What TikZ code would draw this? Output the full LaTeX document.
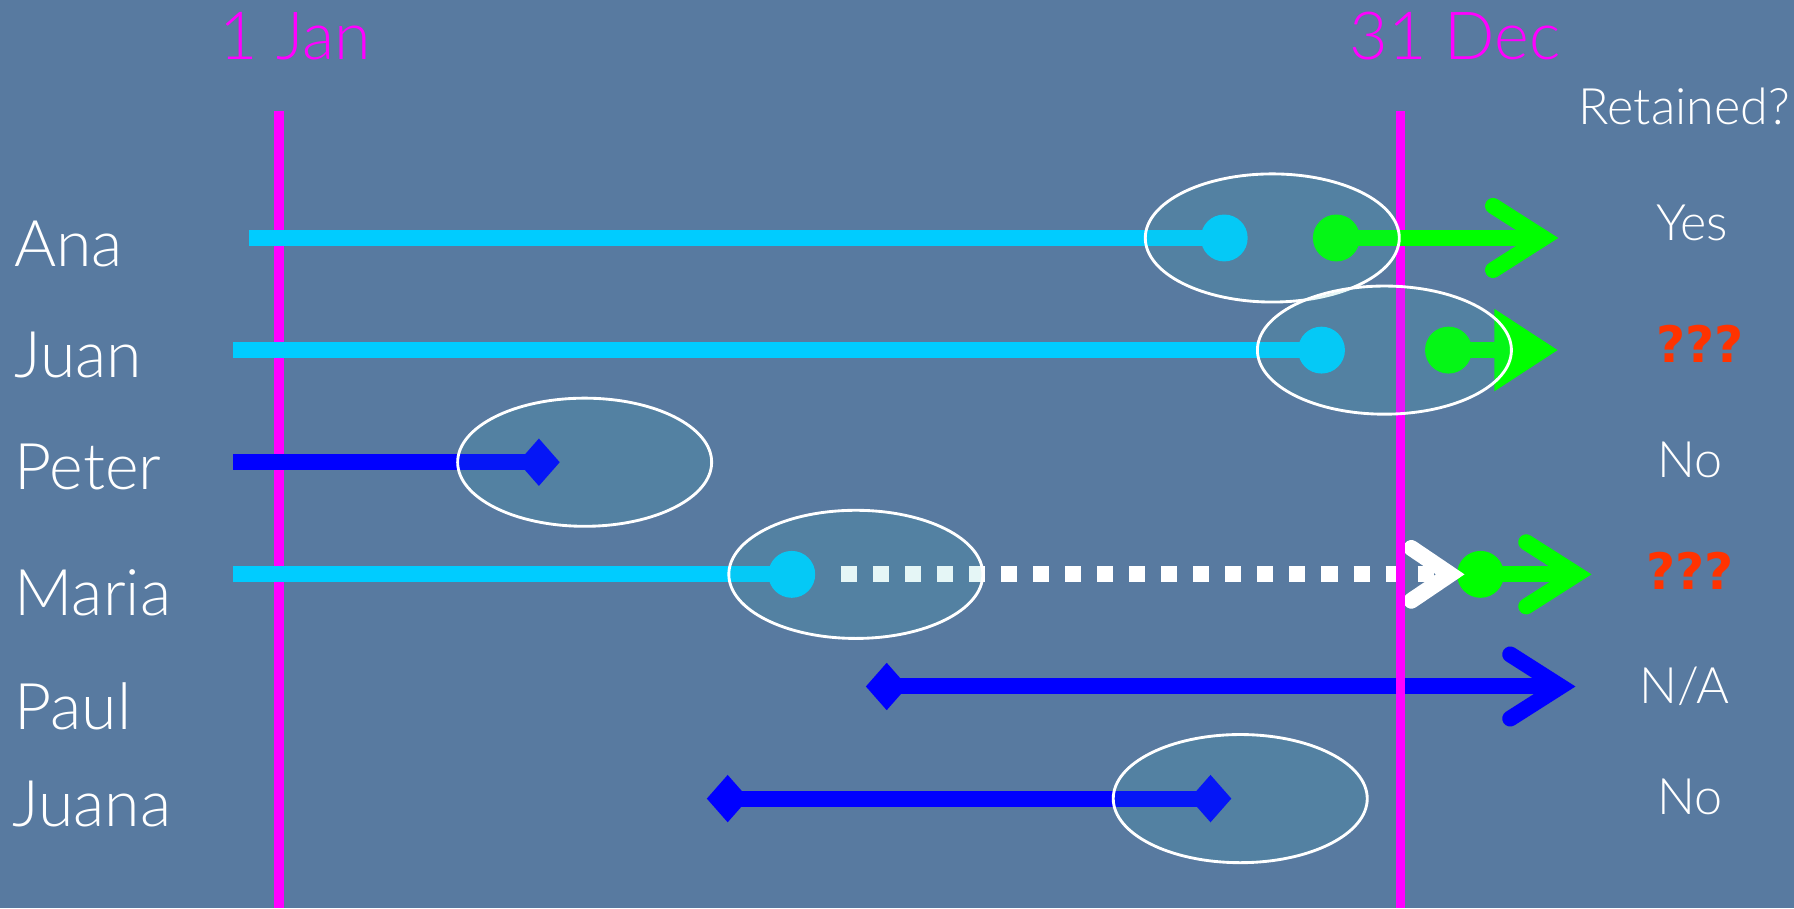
\documentclass[tikz,border=0pt]{standalone}
\usepackage{fontspec}
\setmainfont{Lato Light}
\newfontfamily\markfont{DejaVu Sans}
\usetikzlibrary{arrows.meta,shapes.geometric}

\definecolor{slide}{RGB}{88,122,160}
\definecolor{fuchsia}{RGB}{255,0,255}
\definecolor{sky}{RGB}{0,204,255}
\definecolor{lime}{RGB}{0,255,0}
\definecolor{hilite}{RGB}{48,182,182}
\definecolor{alarm}{RGB}{255,51,0}

\tikzset{
  bar/.style={line width=1.4mm},
  yearline/.style={fuchsia, line width=0.85mm},
  dot/.style={circle, fill, inner sep=0pt, minimum size=4.1mm},
  gem/.style={diamond, fill=blue, inner sep=0pt, minimum width=3.7mm, minimum height=4.2mm},
  barb/.style={-{Straight Barb[length=4.4mm, width=5.6mm, line cap=round]}},
  smallbarb/.style={-{Straight Barb[length=3.4mm, width=4.6mm, line cap=round]}},
  wedge/.style={-{Triangle[length=5.6mm, width=6.8mm]}},
  ring/.style={ellipse, draw=white, line width=0.25mm, fill=hilite, fill opacity=0.12,
    minimum width=22.2mm, minimum height=11.2mm},
  person/.style={text=white, inner sep=0pt, font=\fontsize{16}{16}\selectfont, anchor=base west},
  daylabel/.style={text=fuchsia, inner sep=0pt, font=\fontsize{16.5}{16.5}\selectfont, anchor=base},
  answer/.style={text=white, inner sep=0pt, font=\fontsize{12.5}{12.5}\selectfont, anchor=base},
  puzzle/.style={text=alarm, inner sep=0pt, font=\markfont\bfseries\fontsize{12.5}{12.5}\selectfont, anchor=base}
}

\begin{document}
\begin{tikzpicture}
\fill[slide] (0,0) rectangle (15.68,-7.94);
\useasboundingbox (0,0) rectangle (15.68,-7.94);

% year limits
\node[daylabel] (jan) at (2.58,-0.52) {1 Jan};
\node[daylabel] (dec) at (12.72,-0.52) {31 Dec};
\coordinate (jan top) at (2.44,-0.97);
\coordinate (jan foot) at (2.44,-7.94);
\coordinate (dec top) at (12.24,-0.97);
\coordinate (dec foot) at (12.24,-7.94);
\draw[yearline] (jan top) -- (jan foot);

% names
\node[person] (ana) at (0.12,-2.33) {Ana};
\node[person] (juan) at (0.12,-3.30) {Juan};
\node[person] (peter) at (0.12,-4.28) {Peter};
\node[person] (maria) at (0.12,-5.38) {Maria};
\node[person] (paul) at (0.12,-6.38) {Paul};
\node[person] (juana) at (0.10,-7.22) {Juana};

% Maria
\coordinate (maria start) at (2.04,-5.02);
\node[dot, sky] (maria out) at (6.92,-5.02) {};
\coordinate (maria gap) at (7.35,-5.02);
\coordinate (maria mark) at (12.80,-5.02);
\node[dot, lime] (maria back) at (12.94,-5.02) {};
\coordinate (maria end) at (13.91,-5.02);
\draw[bar, sky] (maria start) -- (maria out.center);
\draw[bar, white, dash pattern=on 1.4mm off 1.4mm, smallbarb] (maria gap) -- (maria mark);
\draw[bar, lime, barb] (maria back.center) -- (maria end);

% Paul
\node[gem] (paul in) at (7.75,-6.00) {};
\coordinate (paul end) at (13.77,-6.00);
\draw[bar, blue, barb] (paul in.center) -- (paul end);

\draw[yearline] (dec top) -- (dec foot);

% Ana
\coordinate (ana start) at (2.18,-2.08);
\node[dot, sky] (ana out) at (10.70,-2.08) {};
\node[dot, lime] (ana back) at (11.68,-2.08) {};
\coordinate (ana end) at (13.62,-2.08);
\draw[bar, sky] (ana start) -- (ana out.center);
\draw[bar, lime, barb] (ana back.center) -- (ana end);

% Juan
\coordinate (juan start) at (2.04,-3.06);
\node[dot, sky] (juan out) at (11.55,-3.06) {};
\node[dot, lime] (juan back) at (12.66,-3.06) {};
\coordinate (juan end) at (13.62,-3.06);
\draw[bar, sky] (juan start) -- (juan out.center);
\draw[bar, lime, wedge] (juan back.center) -- (juan end);

% Peter
\coordinate (peter start) at (2.04,-4.04);
\node[gem] (peter out) at (4.71,-4.04) {};
\draw[bar, blue] (peter start) -- (peter out.center);

% Juana
\node[gem] (juana in) at (6.36,-6.98) {};
\node[gem] (juana out) at (10.58,-6.98) {};
\draw[bar, blue] (juana in.center) -- (juana out.center);

% events of the year
\node[ring] (ana ring) at (11.12,-2.08) {};
\node[ring] (juan ring) at (12.10,-3.06) {};
\node[ring] (peter ring) at (5.11,-4.04) {};
\node[ring] (maria ring) at (7.48,-5.02) {};
\node[ring] (juana ring) at (10.84,-6.98) {};

% outcome column
\node[answer] (retained) at (14.72,-1.09) {Retained?};
\node[answer] (ana yes) at (14.79,-2.10) {Yes};
\node[puzzle] (juan unsure) at (14.86,-3.17) {???};
\node[answer] (peter no) at (14.77,-4.17) {No};
\node[puzzle] (maria unsure) at (14.77,-5.15) {???};
\node[answer] (paul na) at (14.72,-6.15) {N/A};
\node[answer] (juana no) at (14.77,-7.12) {No};
\end{tikzpicture}
\end{document}
